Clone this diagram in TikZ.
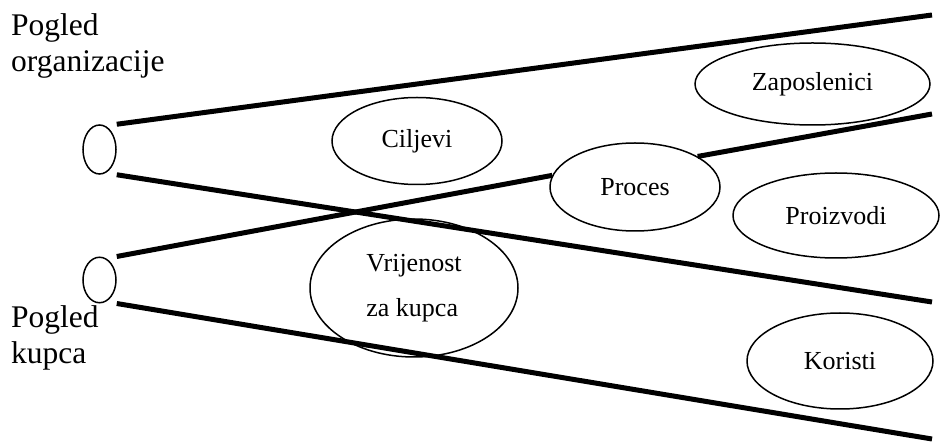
\documentclass[tikz,border=0pt]{standalone}
\usepackage{fontspec}
\setmainfont{Liberation Serif}
\usetikzlibrary{shapes}

\begin{document}
\begin{tikzpicture}[x=1pt, y=-1pt,
    oval/.style={draw, ellipse, line width=1.5pt, inner sep=0pt, font=\fontsize{26}{45}\selectfont},
    view/.style={anchor=north west, inner sep=0pt, align=left, font=\fontsize{31.5}{35.5}\selectfont},
    ray/.style={line width=5pt}]
    \useasboundingbox (0,0) rectangle (940,443);

    % eyes and views
    \node[oval, minimum width=33pt, minimum height=49pt] (orgeye) at (99.5,149.5) {};
    \node[oval, minimum width=33pt, minimum height=45.5pt] (kupeye) at (99.5,280) {};
    \node[view] (orgview) at (11,13.5) {Pogled\\organizacije};
    \node[view] (kupview) at (11,305.5) {Pogled\\kupca};

    % ovals
    \node[oval, minimum width=170pt, minimum height=87pt] (ciljevi) at (417,141) {Ciljevi};
    \node[oval, minimum width=170pt, minimum height=88pt] (proces) at (635,187) {Proces};
    \node[oval, minimum width=208pt, minimum height=138pt, align=left] (vrijednost) at (414,288) {Vrijenost\\za kupca};
    \node[oval, minimum width=235pt, minimum height=82pt] (zaposlenici) at (812.5,84) {Zaposlenici};
    \node[oval, minimum width=206pt, minimum height=85pt] (proizvodi) at (836,215.5) {Proizvodi};
    \node[oval, minimum width=186pt, minimum height=96pt] (koristi) at (840,361) {Koristi};

    % rays
    \coordinate (end1) at (932,15);
    \coordinate (end2) at (932,302);
    \coordinate (end3) at (932,114);
    \coordinate (end4) at (932,439);
    \draw[ray] (orgeye.north -| orgeye.east) -- (end1);
    \draw[ray] (orgeye.south -| orgeye.east) -- (end2);
    \draw[ray] (kupeye.north -| kupeye.east) -- (proces.172);
    \draw[ray] (proces.26) -- (end3);
    \draw[ray] (kupeye.south -| kupeye.east) -- (end4);
\end{tikzpicture}
\end{document}
